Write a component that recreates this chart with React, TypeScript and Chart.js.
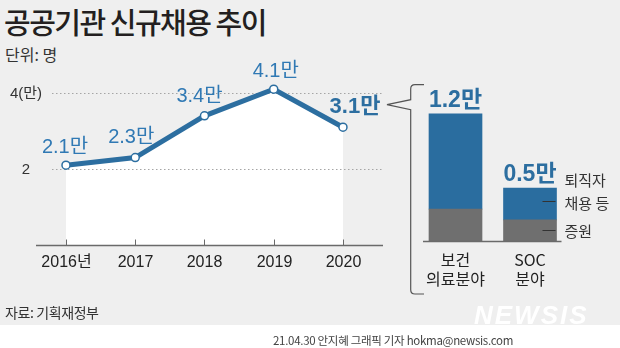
import React, { useEffect, useRef } from "react";
import { Chart, registerables } from "chart.js";

Chart.register(...registerables);

// ---------- data ----------
const years = ["2016년", "2017", "2018", "2019", "2020"];
const hires = [2.1, 2.3, 3.4, 4.1, 3.1]; // 만 명
const hireLabels = ["2.1만", "2.3만", "3.4만", "4.1만", "3.1만"];
const yTicks = [2, 4];
const yTickLabels = ["2", "4(만)"];

const sectorLines = [
  ["보건", "의료분야"],
  ["SOC", "분야"],
];
const increase = [0.3, 0.2]; // 증원
const replacement = [0.9, 0.3]; // 퇴직자 채용 등
const totalLabels = ["1.2만", "0.5만"];
const legendReplacement = ["퇴직자", "채용 등"];
const legendIncrease = "증원";

// ---------- styles ----------
const LINE_BLUE = "#2c6ea0";
const LABEL_BLUE = "#3079b4";
const BAR_BLUE = "#2a6d9f";
const BAR_GRAY = "#6f6f6f";
const BG = "#efefef";
const KR = '"Noto Sans CJK KR", sans-serif';
const NUM = '"Liberation Sans Narrow", "Liberation Sans", "Noto Sans CJK KR", sans-serif';
const LAT = '"Liberation Sans", "Noto Sans CJK KR", sans-serif';

// per-label nudges for the value labels (dx, dy from point)
const labelNudge = [
  [-1, -18],
  [-4, -20],
  [-5, -19],
  [2, -18],
  [12, -20],
];

const linePlugin = {
  id: "lineDecor",
  beforeDatasetsDraw(chart: any) {
    const { ctx, scales } = chart;
    const x = scales.x;
    const y = scales.y;
    ctx.save();
    ctx.strokeStyle = "#a5a5a5";
    ctx.lineWidth = 1;
    ctx.setLineDash([1.5, 2.5]);
    yTicks.forEach((v) => {
      const py = Math.round(y.getPixelForValue(v)) + 0.5;
      ctx.beginPath();
      ctx.moveTo(x.left + 16, py);
      ctx.lineTo(x.right, py);
      ctx.stroke();
    });
    ctx.setLineDash([]);
    ctx.fillStyle = "#333";
    ctx.font = `15px ${LAT}`;
    ctx.textAlign = "center";
    ctx.textBaseline = "middle";
    yTicks.forEach((v, i) => {
      ctx.fillText(yTickLabels[i], 26, y.getPixelForValue(v) + 1);
    });
    ctx.restore();
  },
  afterDatasetsDraw(chart: any) {
    const { ctx, scales } = chart;
    const x = scales.x;
    const y = scales.y;
    const by = Math.round(y.getPixelForValue(0)) + 0.5;
    ctx.save();
    ctx.strokeStyle = "#6a6a6a";
    ctx.lineWidth = 1.5;
    ctx.beginPath();
    ctx.moveTo(x.left, by);
    ctx.lineTo(x.right, by);
    ctx.stroke();
    ctx.lineWidth = 1;
    ctx.fillStyle = "#222";
    ctx.font = `16px ${LAT}`;
    ctx.textAlign = "center";
    ctx.textBaseline = "middle";
    years.forEach((lab, i) => {
      const px = Math.round(x.getPixelForValue(i)) + 0.5;
      ctx.beginPath();
      ctx.moveTo(px, by - 6);
      ctx.lineTo(px, by);
      ctx.stroke();
      ctx.fillText(lab, px, by + 17);
    });
    // value labels
    const meta = chart.getDatasetMeta(0);
    meta.data.forEach((pt: any, i: number) => {
      const last = i === hires.length - 1;
      ctx.fillStyle = last ? LINE_BLUE : LABEL_BLUE;
      ctx.font = last ? `bold 22px ${NUM}` : `20px ${NUM}`;
      ctx.fillText(hireLabels[i], pt.x + labelNudge[i][0], pt.y + labelNudge[i][1]);
    });
    ctx.restore();
  },
};

const barPlugin = {
  id: "barDecor",
  afterDatasetsDraw(chart: any) {
    const { ctx, scales } = chart;
    const y = scales.y;
    const m0 = chart.getDatasetMeta(0);
    const m1 = chart.getDatasetMeta(1);
    const by = Math.round(y.getPixelForValue(0)) + 0.5;
    const first = m0.data[0];
    const lastBar = m0.data[m0.data.length - 1];
    ctx.save();
    ctx.strokeStyle = "#6a6a6a";
    ctx.lineWidth = 1.5;
    ctx.beginPath();
    ctx.moveTo(first.x - first.width / 2 - 6, by);
    ctx.lineTo(lastBar.x + lastBar.width / 2 + 5, by);
    ctx.stroke();

    ctx.textAlign = "center";
    ctx.textBaseline = "middle";
    m0.data.forEach((bar: any, i: number) => {
      const total = increase[i] + replacement[i];
      ctx.fillStyle = LINE_BLUE;
      ctx.font = `bold 23px ${NUM}`;
      ctx.fillText(totalLabels[i], bar.x, y.getPixelForValue(total) - 13);
      ctx.fillStyle = "#222";
      ctx.font = `16px ${KR}`;
      sectorLines[i].forEach((ln, k) => {
        ctx.fillText(ln, bar.x, by + 18 + k * 19);
      });
    });

    // legend attached to last bar
    const j = m0.data.length - 1;
    const gBar = m0.data[j];
    const bBar = m1.data[j];
    const right = gBar.x + gBar.width / 2;
    const yBlue = Math.round((bBar.y + bBar.base) / 2) - 3 + 0.5;
    const yGray = Math.round((gBar.y + gBar.base) / 2) + 0.5;
    ctx.strokeStyle = "#333";
    ctx.lineWidth = 1;
    [yBlue, yGray].forEach((ly) => {
      ctx.beginPath();
      ctx.moveTo(right - 14, ly);
      ctx.lineTo(right - 1, ly);
      ctx.stroke();
    });
    ctx.fillStyle = "#333";
    ctx.font = `15px ${KR}`;
    ctx.textAlign = "left";
    ctx.fillText(legendReplacement[0], right + 8, yBlue - 21);
    ctx.fillText(legendReplacement[1], right + 8, yBlue + 2);
    ctx.fillText(legendIncrease, right + 8, yGray + 1);
    ctx.restore();
  },
};

export default function App() {
  const lineRef = useRef<HTMLCanvasElement>(null);
  const barRef = useRef<HTMLCanvasElement>(null);

  useEffect(() => {
    const lineChart = new Chart(lineRef.current as HTMLCanvasElement, {
      type: "line",
      data: {
        datasets: [
          {
            data: hires.map((v, i) => ({ x: i, y: v })),
            borderColor: LINE_BLUE,
            borderWidth: 5,
            pointRadius: 4,
            pointBorderWidth: 1.5,
            pointBackgroundColor: "#ffffff",
            pointBorderColor: LINE_BLUE,
            fill: "origin",
            backgroundColor: "#ffffff",
            tension: 0,
            clip: false as any,
          },
        ],
      },
      options: {
        responsive: false,
        animation: false,
        events: [],
        layout: { padding: { left: 36, right: 17, top: 70, bottom: 55 } },
        scales: {
          x: { type: "linear", display: false, min: -0.433, max: 4.578 },
          y: { display: false, min: 0, max: 4.605 },
        },
        plugins: {
          legend: { display: false },
          tooltip: { enabled: false },
          filler: { drawTime: "beforeDatasetsDraw" } as any,
        },
      },
      plugins: [linePlugin],
    } as any);

    const barChart = new Chart(barRef.current as HTMLCanvasElement, {
      type: "bar",
      data: {
        labels: sectorLines.map((s) => s.join(" ")),
        datasets: [
          { label: "증원", data: increase, backgroundColor: BAR_GRAY, barThickness: 53 },
          { label: "퇴직자 채용 등", data: replacement, backgroundColor: BAR_BLUE, barThickness: 53 },
        ],
      },
      options: {
        responsive: false,
        animation: false,
        events: [],
        layout: { padding: { left: 18.25, right: 52.75, top: 92.6, bottom: 59 } },
        scales: {
          x: { stacked: true, display: false },
          y: { stacked: true, display: false, min: 0, max: 1.4 },
        },
        plugins: { legend: { display: false }, tooltip: { enabled: false } },
      },
      plugins: [barPlugin],
    } as any);

    return () => {
      lineChart.destroy();
      barChart.destroy();
    };
  }, []);

  return (
    <div
      style={{
        position: "fixed",
        left: 0,
        top: 0,
        width: 620,
        height: 348,
        background: BG,
        overflow: "hidden",
        fontFamily: KR,
      }}
    >
      <div style={{ position: "absolute", left: 0, top: 325, width: 620, height: 23, background: "#fff" }} />
      <div
        style={{
          position: "absolute",
          left: 4,
          top: 3,
          fontSize: 29,
          fontWeight: 500,
          letterSpacing: -1.5,
          lineHeight: "36px",
          color: "#231f20",
          whiteSpace: "nowrap",
        }}
      >
        공공기관 신규채용 추이
      </div>
      <div style={{ position: "absolute", left: 5, top: 44, fontSize: 16, lineHeight: "20px", color: "#333" }}>
        단위: 명
      </div>
      <canvas
        ref={lineRef}
        width={400}
        height={300}
        style={{ position: "absolute", left: 0, top: 0, width: 400, height: 300 }}
      />
      <canvas
        ref={barRef}
        width={220}
        height={300}
        style={{ position: "absolute", left: 400, top: 0, width: 220, height: 300 }}
      />
      <svg
        width={620}
        height={348}
        style={{ position: "absolute", left: 0, top: 0 }}
      >
        <path
          d="M424 84.7 L415 84.7 Q410.7 84.7 410.7 89 L410.7 99.7 L387 104.7 L410.7 109.7 L410.7 289.7 Q410.7 294 415 294 L424 294"
          fill="none"
          stroke="#555"
          strokeWidth={1.2}
        />
      </svg>
      <div
        style={{
          position: "absolute",
          left: 5,
          top: 302,
          fontSize: 14,
          letterSpacing: -0.4,
          lineHeight: "20px",
          color: "#333",
        }}
      >
        자료: 기획재정부
      </div>
      <div
        style={{
          position: "absolute",
          left: 474,
          top: 300,
          fontFamily: LAT,
          fontWeight: 700,
          fontStyle: "italic",
          fontSize: 26,
          letterSpacing: 2,
          lineHeight: "30px",
          color: "#ffffff",
        }}
      >
        NEWSIS
      </div>
      <div
        style={{
          position: "absolute",
          right: 107,
          top: 332,
          fontSize: 11.5,
          lineHeight: "16px",
          color: "#444",
          whiteSpace: "nowrap",
          letterSpacing: -0.3,
        }}
      >
        21.04.30 안지혜 그래픽 기자 hokma@newsis.com
      </div>
    </div>
  );
}
